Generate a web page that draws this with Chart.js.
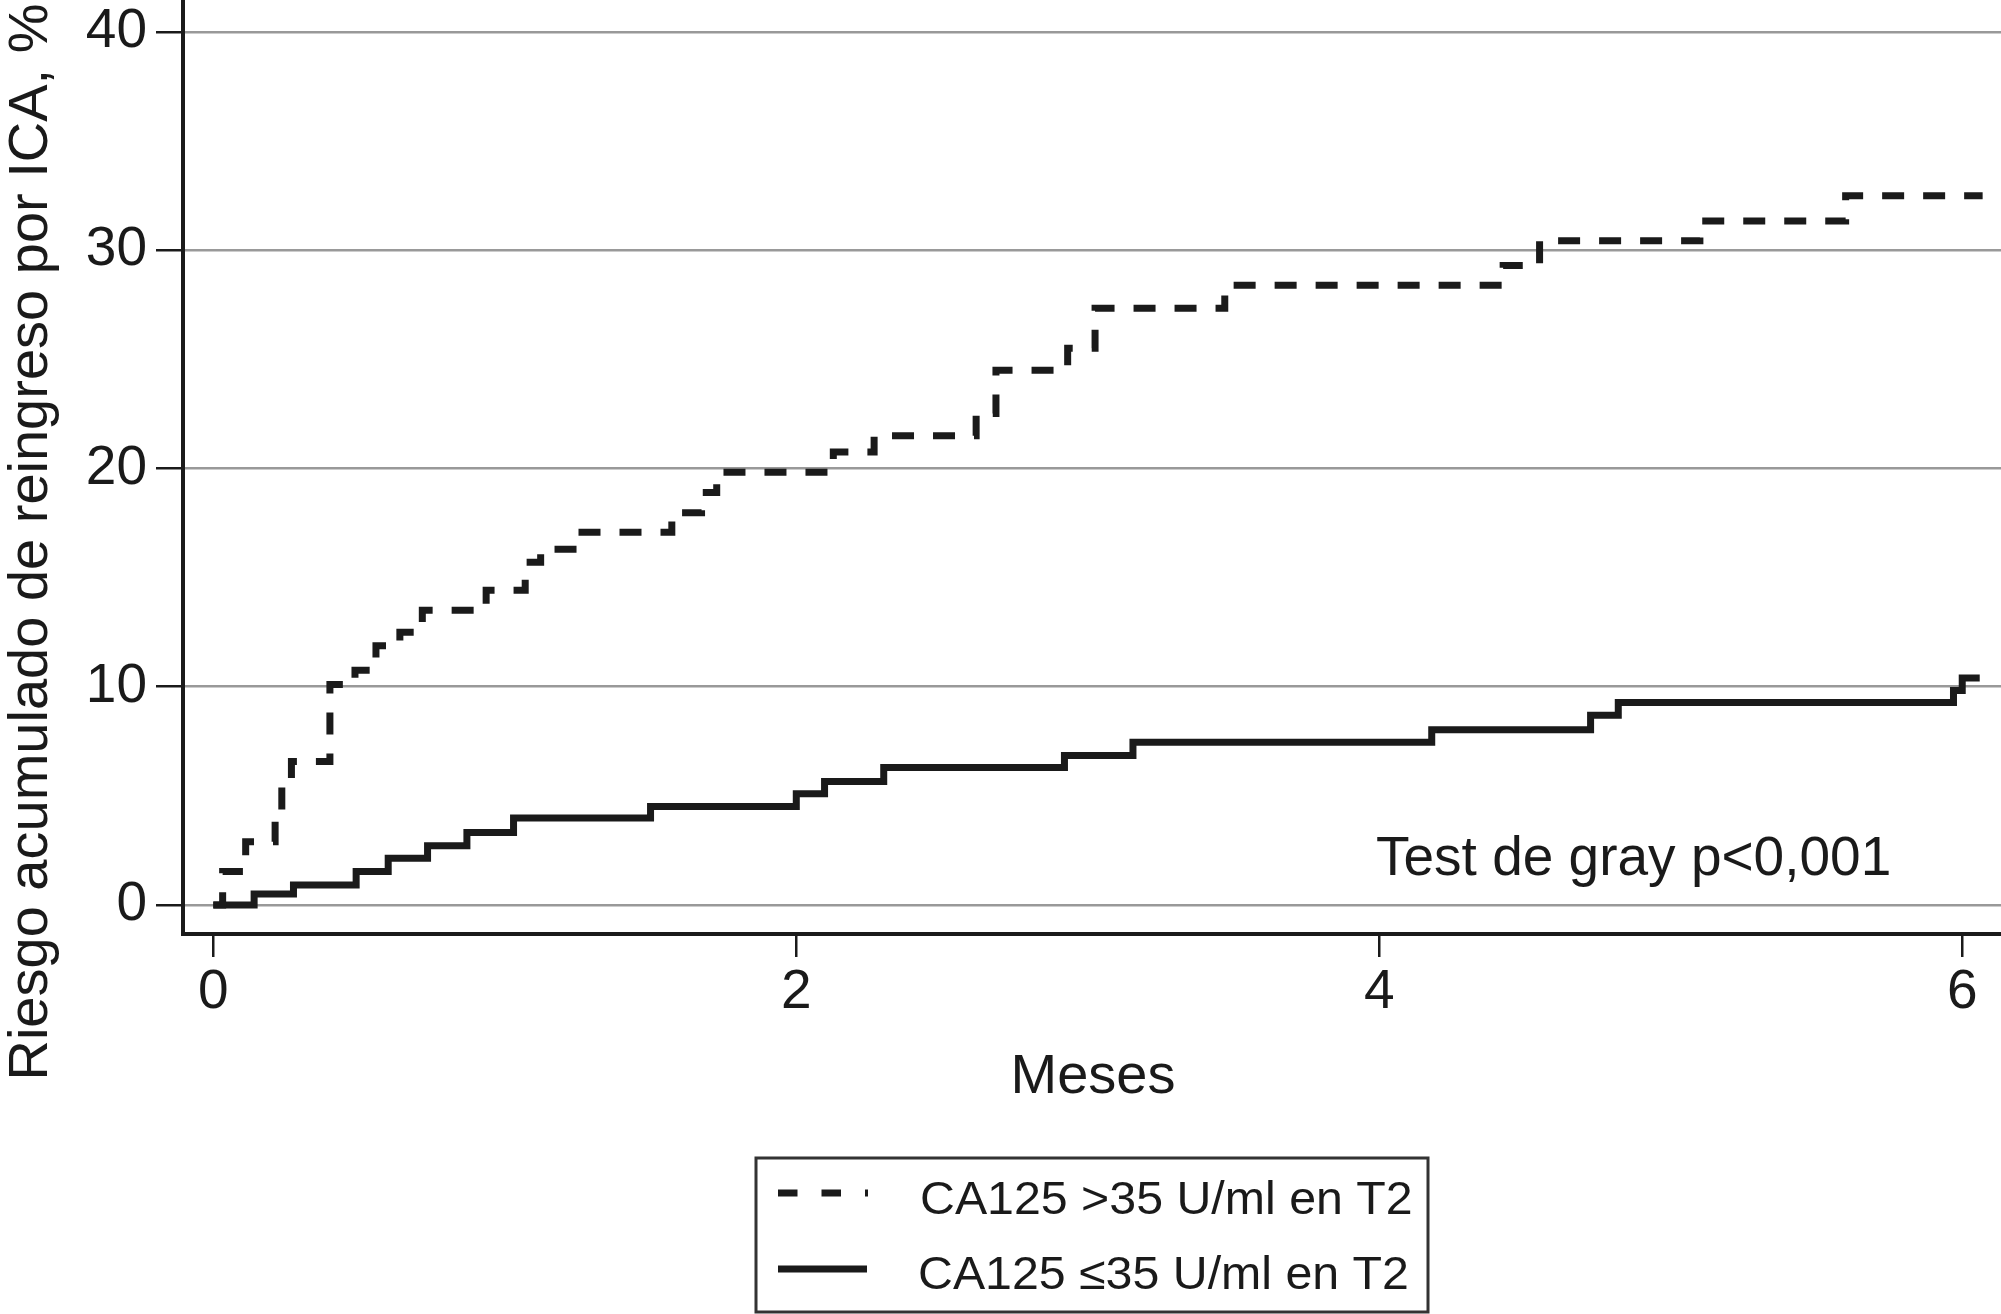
<!DOCTYPE html>
<html>
<head>
<meta charset="utf-8">
<script src="https://cdn.jsdelivr.net/npm/chart.js@4.4.1/dist/chart.umd.min.js"></script>
<style>
  html, body { margin: 0; padding: 0; background: #fff; }
  #chart { display: block; }
</style>
</head>
<body>
<canvas id="chart" width="2001" height="1314"></canvas>
<script>
const FONT = '"Liberation Sans", Arial, Helvetica, sans-serif';
const INK = "#1a1a1a";

// month where each step starts, and cumulative risk (%) from there on
const highTimes = [0, 0.032, 0.111, 0.212, 0.235, 0.268, 0.40, 0.486, 0.558, 0.64, 0.717, 0.936, 1.07, 1.123, 1.247,
    1.573, 1.675, 1.727, 2.127, 2.267, 2.617, 2.685, 2.931, 3.025, 3.47, 4.425, 4.55, 5.10, 5.60, 6.07];
const highRisk = [0, 1.53, 2.9, 4.3, 5.7, 6.57, 10.1, 10.75, 11.88, 12.49, 13.5, 14.42, 15.7, 16.3, 17.08,
    17.97, 18.9, 19.83, 20.75, 21.5, 22.52, 24.5, 25.5, 27.34, 28.39, 29.3, 30.43, 31.34, 32.49, 32.49];

const lowTimes = [0, 0.14, 0.275, 0.49, 0.60, 0.735, 0.87, 1.03, 1.50, 2.0, 2.097, 2.30, 2.92, 3.155, 4.18,
    4.725, 4.82, 5.97, 6.0, 6.06];
const lowRisk = [0, 0.5, 0.92, 1.53, 2.14, 2.71, 3.32, 3.98, 4.51, 5.1, 5.66, 6.30, 6.85, 7.45, 8.03,
    8.69, 9.28, 9.83, 10.4, 10.4];

const xTicks = [0, 2, 4, 6];
const yTicks = [0, 10, 20, 30, 40];

const seriesLabels = ["CA125 >35 U/ml en T2", "CA125 \u226435 U/ml en T2"];
const xTitle = "Meses";
const yTitle = "Riesgo acumulado de reingreso por ICA, %";
const noteText = "Test de gray p<0,001";

const toPoints = (times, risk) => times.map((t, i) => ({ x: t, y: risk[i] }));

const extrasPlugin = {
    id: "extras",
    afterDraw(chart) {
        const ctx = chart.ctx;
        ctx.save();
        ctx.fillStyle = INK;

        // axis titles
        ctx.font = `56px ${FONT}`;
        ctx.textAlign = "center";
        ctx.textBaseline = "alphabetic";
        ctx.fillText(xTitle, 1093, 1093);

        ctx.save();
        ctx.translate(47, 542);
        ctx.rotate(-Math.PI / 2);
        ctx.font = `56px ${FONT}`;
        ctx.fillText(yTitle, 0, 0);
        ctx.restore();

        // gray test note
        ctx.font = `55px ${FONT}`;
        ctx.textAlign = "left";
        ctx.fillText(noteText, 1376, 875);

        // legend box
        ctx.strokeStyle = "#333";
        ctx.lineWidth = 3;
        ctx.strokeRect(756, 1158, 672, 154);

        ctx.strokeStyle = INK;
        ctx.lineWidth = 7;
        ctx.lineCap = "butt";
        ctx.setLineDash([19.5, 24]);
        ctx.beginPath();
        ctx.moveTo(778, 1193);
        ctx.lineTo(868, 1193);
        ctx.stroke();
        ctx.setLineDash([]);
        ctx.beginPath();
        ctx.moveTo(778, 1269);
        ctx.lineTo(867, 1269);
        ctx.stroke();

        ctx.font = `46px ${FONT}`;
        const rows = [[920, 1214], [918, 1289]];
        seriesLabels.forEach((label, i) => {
            ctx.save();
            ctx.translate(rows[i][0], rows[i][1]);
            ctx.scale(1.05, 1);
            ctx.fillText(label, 0, 0);
            ctx.restore();
        });
        ctx.restore();
    }
};

new Chart(document.getElementById("chart"), {
    type: "line",
    data: {
        datasets: [{
            label: seriesLabels[0],
            data: toPoints(highTimes, highRisk),
            stepped: true,
            borderColor: INK,
            borderWidth: 7,
            borderDash: [22, 19],
            borderCapStyle: "butt",
            borderJoinStyle: "miter",
            pointRadius: 0,
            fill: false
        }, {
            label: seriesLabels[1],
            data: toPoints(lowTimes, lowRisk),
            stepped: true,
            borderColor: INK,
            borderWidth: 7,
            borderCapStyle: "butt",
            borderJoinStyle: "miter",
            pointRadius: 0,
            fill: false
        }]
    },
    options: {
        responsive: false,
        devicePixelRatio: 1,
        animation: false,
        layout: { padding: 0 },
        plugins: {
            legend: { display: false },
            tooltip: { enabled: false }
        },
        scales: {
            x: {
                type: "linear",
                min: -0.104,
                max: 6.133,
                afterBuildTicks: scale => { scale.ticks = xTicks.map(v => ({ value: v })); },
                afterFit: scale => {
                    scale.height = 380;
                    scale.paddingLeft = 0;
                    scale.paddingRight = 0;
                },
                grid: {
                    drawOnChartArea: false,
                    drawTicks: true,
                    tickLength: 23,
                    tickColor: INK,
                    lineWidth: 2.5
                },
                border: { display: true, color: INK, width: 4 },
                ticks: {
                    color: INK,
                    padding: 3,
                    maxRotation: 0,
                    font: { family: FONT, size: 55 }
                }
            },
            y: {
                type: "linear",
                min: -1.33,
                max: 41.46,
                afterBuildTicks: scale => { scale.ticks = yTicks.map(v => ({ value: v })); },
                afterFit: scale => {
                    scale.width = 183;
                    scale.paddingTop = 0;
                    scale.paddingBottom = 0;
                },
                grid: {
                    color: "#999",
                    lineWidth: 2.5,
                    tickLength: 27,
                    tickColor: INK
                },
                border: { display: true, color: INK, width: 4 },
                ticks: {
                    color: INK,
                    padding: 9,
                    font: { family: FONT, size: 55 }
                }
            }
        }
    },
    plugins: [extrasPlugin]
});
</script>
</body>
</html>
